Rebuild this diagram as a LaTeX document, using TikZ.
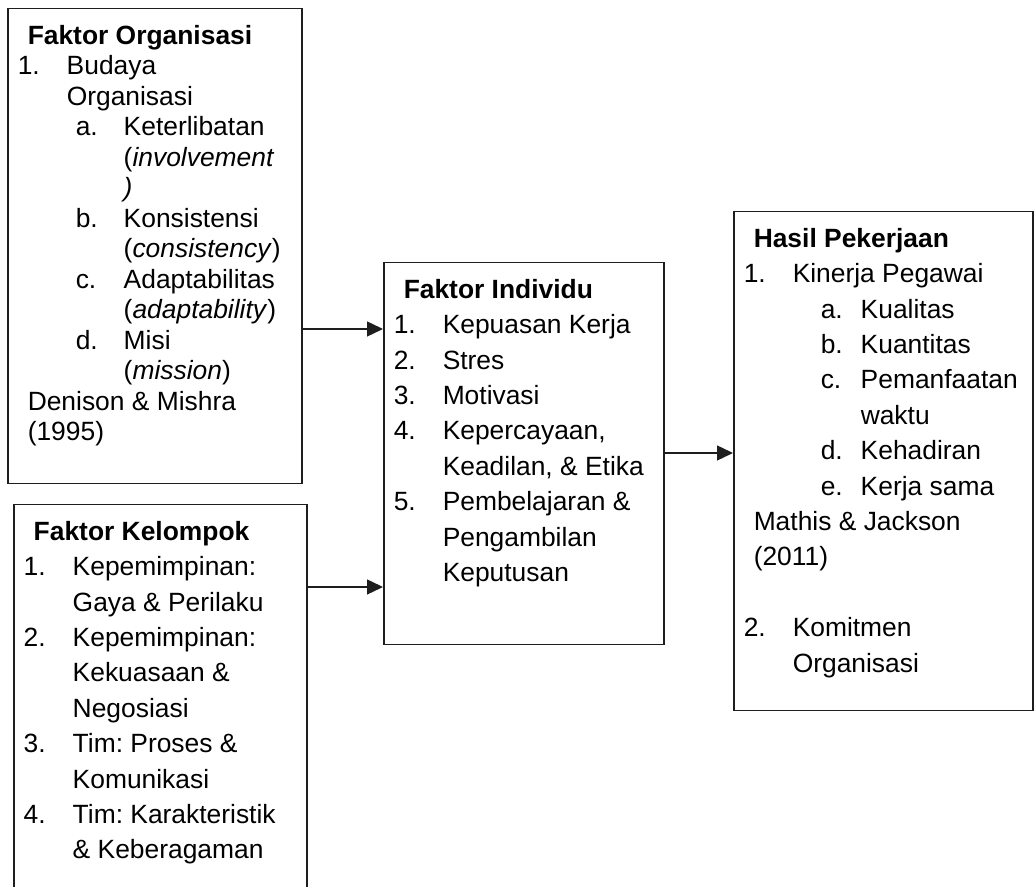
\documentclass[tikz,border=0pt]{standalone}
\usepackage{fontspec}
\setmainfont{Liberation Sans}
\usepackage{xcolor}
\definecolor{Ink}{HTML}{000000}
\definecolor{Edge}{HTML}{1E1E1E}
\usetikzlibrary{arrows.meta,calc}
\frenchspacing
\newlength\sublab
\newlength\subtxt
\newcommand\hd[1]{\rule{0pt}{17.75pt}\hspace*{10pt}\textbf{#1}\par}
\newcommand\li[2]{\hspace*{5pt}\makebox[24.5pt][l]{#1}#2\par}
\newcommand\lc[1]{\hspace*{29.5pt}#1\par}
\newcommand\sli[2]{\hspace*{\sublab}\makebox[\dimexpr\subtxt-\sublab\relax][l]{#1}#2\par}
\newcommand\slc[1]{\hspace*{\subtxt}#1\par}
\newcommand\src[1]{\hspace*{10pt}#1\par}
\newcommand\gap{\mbox{}\par}
\newcommand\boxbody[4]{\parbox[c][#2][t]{#1}{\fontsize{13.2pt}{#3}\selectfont
  \setlength\lineskiplimit{-20pt}\color{Ink}#4}}
\tikzset{
  panel/.style={draw=Edge,fill=white,line width=.75pt,inner sep=0pt,anchor=north west},
  link/.style={-{Triangle[length=8pt,width=7.5pt]},line width=.7pt,draw=Edge}
}
\begin{document}
\begin{tikzpicture}[x=.5pt,y=-.5pt]
\useasboundingbox (0,0) rectangle (1035,887);
\clip (0,0) rectangle (1035,887);
% left column
\node[panel] (org) at (7,8) {\boxbody{147pt}{237.5pt}{15.25pt}{%
  \setlength\sublab{34pt}\setlength\subtxt{58pt}%
  \hd{Faktor Organisasi}
  \li{1.}{Budaya}
  \lc{Organisasi}
  \sli{a.}{Keterlibatan}
  \slc{(\textit{involvement}}
  \slc{\textit{)}}
  \sli{b.}{Konsistensi}
  \slc{(\textit{consistency})}
  \sli{c.}{Adaptabilitas}
  \slc{(\textit{adaptability})}
  \sli{d.}{Misi}
  \slc{(\textit{mission})}
  \src{Denison \& Mishra}
  \src{(1995)}}};
\node[panel] (kel) at (13,504) {\boxbody{146.5pt}{220pt}{17.7pt}{%
  \hd{Faktor Kelompok}
  \li{1.}{Kepemimpinan:}
  \lc{Gaya \& Perilaku}
  \li{2.}{Kepemimpinan:}
  \lc{Kekuasaan \&}
  \lc{Negosiasi}
  \li{3.}{Tim: Proses \&}
  \lc{Komunikasi}
  \li{4.}{Tim: Karakteristik}
  \lc{\& Keberagaman}}};
% middle
\node[panel] (ind) at (383,262) {\boxbody{140pt}{191pt}{17.7pt}{%
  \hd{Faktor Individu}
  \li{1.}{Kepuasan Kerja}
  \li{2.}{Stres}
  \li{3.}{Motivasi}
  \li{4.}{Kepercayaan,}
  \lc{Keadilan, \& Etika}
  \li{5.}{Pembelajaran \&}
  \lc{Pengambilan}
  \lc{Keputusan}}};
% right
\node[panel] (hasil) at (733,211) {\boxbody{149.5pt}{249.5pt}{17.7pt}{%
  \setlength\sublab{43.5pt}\setlength\subtxt{63.5pt}%
  \hd{Hasil Pekerjaan}
  \li{1.}{Kinerja Pegawai}
  \sli{a.}{Kualitas}
  \sli{b.}{Kuantitas}
  \sli{c.}{Pemanfaatan}
  \slc{waktu}
  \sli{d.}{Kehadiran}
  \sli{e.}{Kerja sama}
  \src{Mathis \& Jackson}
  \src{(2011)}
  \gap
  \li{2.}{Komitmen}
  \lc{Organisasi}}};
% connectors
\coordinate (y1) at (0,329);
\coordinate (y2) at (0,587);
\coordinate (y3) at (0,453);
\draw[link] (org.east |- y1) -- (ind.west |- y1);
\draw[link] (kel.east |- y2) -- (ind.west |- y2);
\draw[link] (ind.east |- y3) -- (hasil.west |- y3);
\end{tikzpicture}
\end{document}
